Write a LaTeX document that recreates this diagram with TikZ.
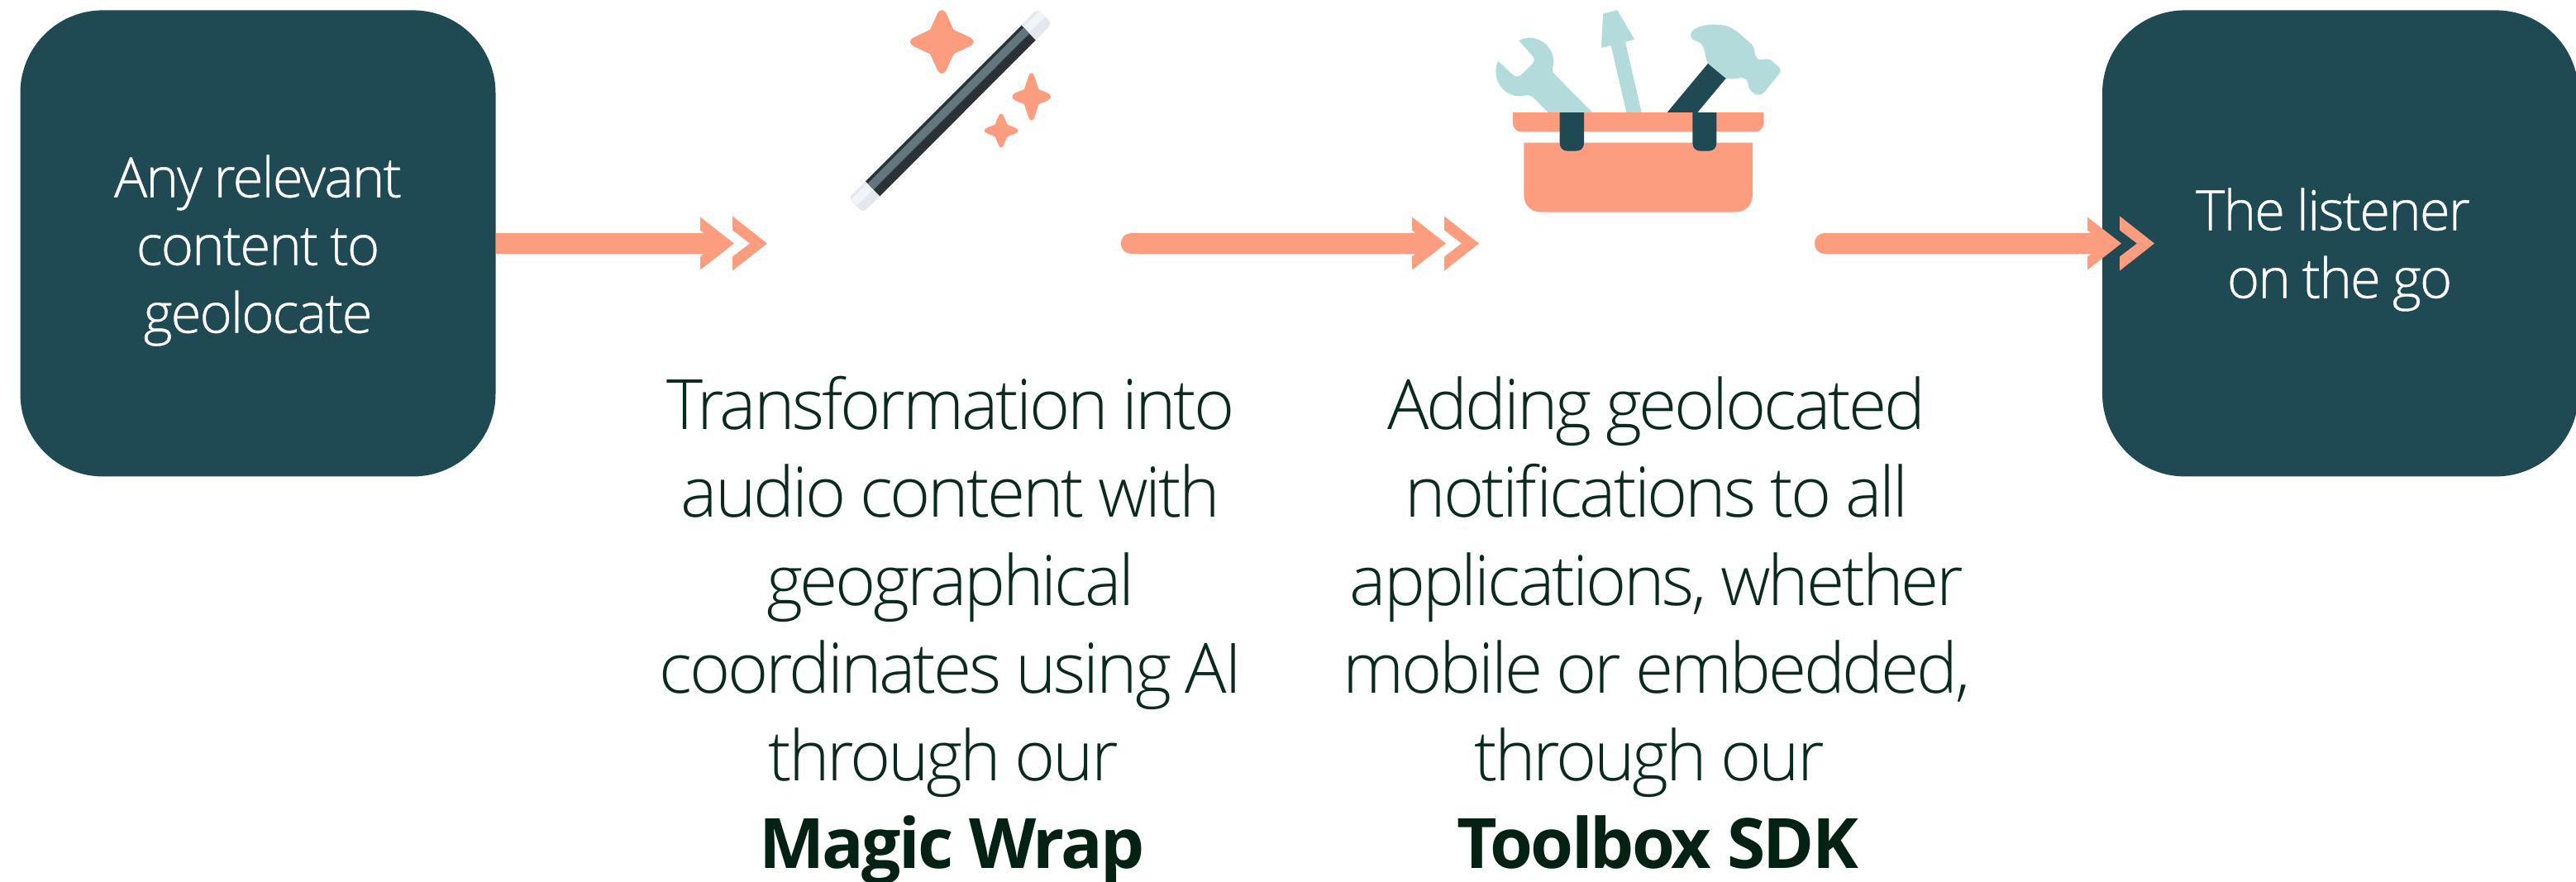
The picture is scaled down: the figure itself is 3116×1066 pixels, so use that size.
\documentclass[tikz,border=0pt]{standalone}
\usepackage{fontspec}
\setmainfont{Open Sans Light}[BoldFont={Open Sans Bold}]
\newfontfamily\boxfont{Open Sans Light}[LetterSpace=-2.8,WordSpace=0.9,FakeBold=0.6]
\newfontfamily\colfont{Open Sans Light}[BoldFont={Open Sans Bold},UprightFeatures={LetterSpace=-3.8,WordSpace=0.9},BoldFeatures={LetterSpace=-3.3}]
\definecolor{boxteal}{HTML}{1F4A54}
\definecolor{coral}{HTML}{FC9D7F}
\definecolor{inkgreen}{HTML}{0A2A1E}
\definecolor{boldgreen}{HTML}{042214}
\definecolor{paleblue}{HTML}{B4DBDB}
\definecolor{wanddark}{HTML}{2B3237}
\definecolor{wandgrey}{HTML}{637680}
\definecolor{tipdark}{HTML}{E2E8EE}
\definecolor{tiplight}{HTML}{F1F5F9}
\tikzset{
  tealbox/.style={fill=boxteal,rounded corners=50pt,minimum width=#1*0.5pt,minimum height=282pt,inner sep=0pt},
  boxtext/.style={text=white,align=center,inner sep=0pt,anchor=base,font=\boxfont\fontsize{33.5}{41}\selectfont},
  coltext/.style={text=inkgreen,align=center,inner sep=0pt,anchor=base,font=\colfont\fontsize{42}{53.1}\selectfont},
  shaft/.style={draw=coral,line width=12.25pt},
  headfill/.style={fill=coral},
  icon/.style={shift={#1},xscale=0.33333,yscale=0.33333},
}
\newcommand{\chevrons}[1]{%
  \begin{scope}[shift={(#1)}]
    \fill[headfill] (0,-32) -- (41,0) -- (0,32) -- (0,16) -- (5,12) -- (5,-12) -- (0,-16) -- cycle;
    \fill[headfill] (39,-33) -- (81,0) -- (39,33) -- (39,16) -- (60,0) -- (39,-16) -- cycle;
  \end{scope}}
\newcommand{\sparkle}[6]{%
  \begin{scope}[shift={(#1,#2)},xscale=#3,yscale=#4]
    \fill[coral] (-0.17,-0.82) .. controls (-0.12,-0.94) and (-0.07,-1) .. (0,-1)
      .. controls (0.07,-1) and (0.12,-0.94) .. (0.17,-0.82)
      -- (#5,-#6) -- (0.82,-0.17)
      .. controls (0.94,-0.12) and (1,-0.07) .. (1,0)
      .. controls (1,0.07) and (0.94,0.12) .. (0.82,0.17)
      -- (#5,#6) -- (0.17,0.82)
      .. controls (0.12,0.94) and (0.07,1) .. (0,1)
      .. controls (-0.07,1) and (-0.12,0.94) .. (-0.17,0.82)
      -- (-#5,#6) -- (-0.82,0.17)
      .. controls (-0.94,0.12) and (-1,0.07) .. (-1,0)
      .. controls (-1,-0.07) and (-0.94,-0.12) .. (-0.82,-0.17)
      -- (-#5,-#6) -- cycle;
  \end{scope}}
\begin{document}
\begin{tikzpicture}[x=0.5pt,y=-0.5pt]
\useasboundingbox (0,0) rectangle (3116,1066);
% boxes
\node[tealbox=575] (src) at (312,294.4) {};
\node[tealbox=576] (dst) at (2831,294.4) {};
\node[boxtext] (srclabel) at (312,402.5) {Any relevant\\content to\\geolocate};
\node[boxtext] (dstlabel) at (2830,360.4) {The listener\kern 8pt\\on the go};
% wand icon
\begin{scope}[icon={(1000,0)}]
  \fill[tipdark] (707,92) -- (758,146) -- (805,98) .. controls (813,90) and (813,80) .. (805,72)
    -- (778,45) .. controls (770,38) and (760,38) .. (752,45) -- cycle;
  \fill[tiplight] (713,98) -- (733,120) -- (795,60) -- (773,40) -- cycle;
  \fill[tipdark] (141,658) -- (193,712) -- (145,760) .. controls (137,767) and (127,767) .. (120,760)
    -- (92,732) .. controls (85,724) and (85,714) .. (92,706) -- cycle;
  \fill[tiplight] (147,664) -- (168,687) -- (108,747) -- (88,725) -- cycle;
  \fill[wanddark] (707,92) -- (758,146) -- (193,712) -- (141,658) -- cycle;
  \fill[wandgrey] (715,100) -- (735,122) -- (170,688) -- (149,666) -- cycle;
\end{scope}
\sparkle{1139.3}{50.6}{38.5}{38.5}{0.37}{0.38}
\sparkle{1247.7}{117}{23.3}{28.7}{0.38}{0.31}
\sparkle{1211}{158}{20.5}{20.4}{0.36}{0.36}
% toolbox icon
\begin{scope}[icon={(1780,0)}]
  \fill[paleblue] (278,408) -- (225,355) .. controls (215,345) and (205,344) .. (178,349)
    .. controls (125,349) and (88,310) .. (88,258) .. controls (88,245) and (90,233) .. (97,222)
    -- (148,270) .. controls (158,280) and (172,280) .. (182,270)
    -- (218,235) .. controls (229,225) and (229,212) .. (222,204)
    -- (172,148) .. controls (183,140) and (197,137) .. (210,137)
    .. controls (258,137) and (298,177) .. (298,225)
    .. controls (298,240) and (288,250) .. (297,265) -- (438,408) -- cycle;
  \fill[paleblue] (477,50) -- (529,37) -- (591,143) -- (558,152) -- (617,408) -- (562,408)
    -- (506,165) -- (471,173) -- cycle;
  \fill[boxteal] (710,408) -- (820,408) -- (925,282) -- (860,228) -- cycle;
  \fill[paleblue] (860,232) .. controls (845,215) and (852,190) .. (840,170)
    .. controls (830,150) and (815,150) .. (803,143)
    .. controls (792,135) and (792,120) .. (805,108)
    .. controls (830,90) and (880,85) .. (915,92)
    .. controls (940,96) and (955,108) .. (968,118)
    -- (1018,162) .. controls (1032,175) and (1022,205) .. (1040,215)
    .. controls (1052,222) and (1070,208) .. (1085,218)
    -- (1112,240) .. controls (1122,248) and (1124,258) .. (1116,268)
    -- (1065,332) .. controls (1052,348) and (1032,348) .. (1020,335)
    .. controls (1005,322) and (1005,315) .. (1003,300)
    .. controls (1000,285) and (985,279) .. (965,284)
    .. controls (950,288) and (935,288) .. (920,282) -- cycle;
  \fill[coral] (150,408) -- (1060,408) -- (1060,448) .. controls (1060,466) and (1045,478) .. (1030,478)
    -- (180,478) .. controls (165,478) and (150,466) .. (150,448) -- cycle;
  \fill[coral] (190,518) -- (1020,518) -- (1020,705) .. controls (1020,745) and (995,770) .. (955,770)
    -- (255,770) .. controls (215,770) and (190,745) .. (190,705) -- cycle;
  \fill[boxteal] (320,408) -- (408,408) -- (408,518) .. controls (408,537) and (397,548) .. (378,548)
    -- (350,548) .. controls (331,548) and (320,537) .. (320,518) -- cycle;
  \fill[boxteal] (802,408) -- (889,408) -- (889,518) .. controls (889,537) and (878,548) .. (859,548)
    -- (832,548) .. controls (813,548) and (802,537) .. (802,518) -- cycle;
\end{scope}
% arrows
\coordinate (a2start) at (1368,294.5);
\coordinate (a3start) at (2207,294.5);
\coordinate (a1end) at (855,294.5);
\coordinate (a2end) at (1716,294.5);
\coordinate (a3end) at (2533,294.5);
\draw[shaft] (src.east |- a1end) -- (a1end);
\draw[shaft,line cap=round] (a2start) -- (a2end);
\draw[shaft,line cap=round] (a3start) -- (a3end);
\chevrons{847,294.5}
\chevrons{1708,294.5}
\chevrons{2525,294.5}
% captions
\node[coltext] (magic) at (1150,1050.7) {Transformation into\\audio content with\\geographical\\coordinates using AI\\through our\kern 9pt\\\textcolor{boldgreen}{\textbf{Magic Wrap}}};
\node[coltext] (toolbox) at (2004,1050.7) {Adding geolocated\\notifications to all\\applications, whether\\mobile or embedded,\\through our\kern 9pt\\\textcolor{boldgreen}{\textbf{Toolbox SDK}}};
\end{tikzpicture}
\end{document}
